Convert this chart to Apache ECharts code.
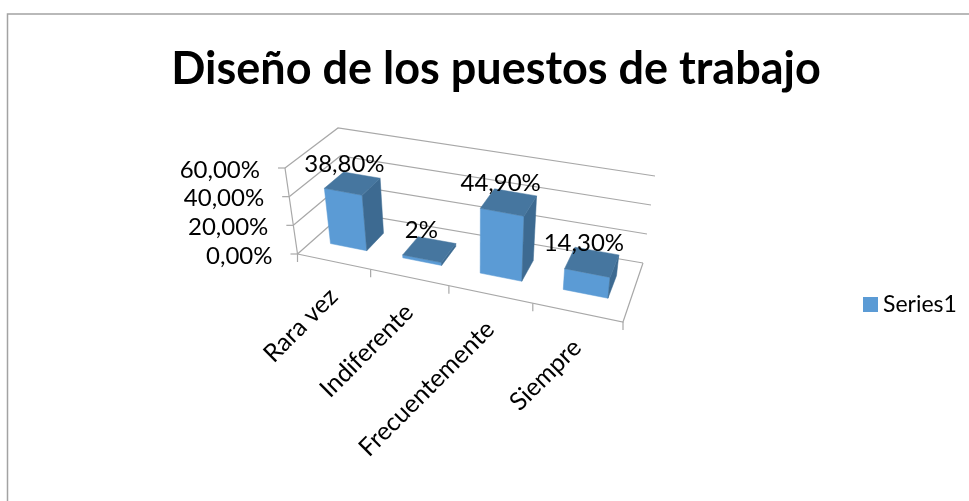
<!DOCTYPE html>
<html>
<head>
<meta charset="utf-8">
<style>html,body{margin:0;padding:0;background:#fff}#chart{width:969px;height:501px}</style>
<script src="https://cdn.jsdelivr.net/npm/echarts@6/dist/echarts.min.js"></script>
</head>
<body>
<div id="chart"></div>
<script>
// Survey results
const chartTitle = 'Diseño de los puestos de trabajo';
const seriesName = 'Series1';
const categories = ['Rara vez', 'Indiferente', 'Frecuentemente', 'Siempre'];
const values = [38.8, 2, 44.9, 14.3];
const valueLabels = ['38,80%', '2%', '44,90%', '14,30%'];
const yTicks = [0, 20, 40, 60];
const yTickLabels = ['0,00%', '20,00%', '40,00%', '60,00%'];

// Screen positions of the corners of the tilted 3D plot box.
const BOX = {
  floorFrontLeft: [297.5, 254], floorFrontRight: [623, 322],
  floorBackLeft: [345, 212], floorBackRight: [643, 263],
  topFrontLeft: [285, 168], topFrontRight: [632, 234],
  topBackLeft: [338, 128], topBackRight: [655, 176]
};
const FORESHORTEN = 1.15;
const DEPTH_FRONT = 0.33, DEPTH_BACK = 0.72;
const FONT = 'Lato, Carlito, sans-serif';
const GRID_COLOR = '#a8a8a8';
const COLOR_FRONT = '#5b9bd5', COLOR_TOP = '#46769f', COLOR_SIDE = '#3d6a91';

const mix = (a, b, t) => [a[0] + (b[0] - a[0]) * t, a[1] + (b[1] - a[1]) * t];

// Maps (across, depth, height), each 0..1, onto the screen.
function project(u, v, w) {
  const f = u / (u + FORESHORTEN * (1 - u));
  const floor = mix(mix(BOX.floorFrontLeft, BOX.floorFrontRight, f), mix(BOX.floorBackLeft, BOX.floorBackRight, f), v);
  const top = mix(mix(BOX.topFrontLeft, BOX.topFrontRight, f), mix(BOX.topBackLeft, BOX.topBackRight, f), v);
  return mix(floor, top, w);
}

// Turns a data point into box fractions using the cartesian axes.
function toBox(api, params, cat, val) {
  const cs = params.coordSys;
  const p = api.coord([cat, val]);
  return {
    u: (p[0] - cs.x) / cs.width,
    w: 1 - (p[1] - cs.y) / cs.height,
    band: api.size([1, 0])[0] / cs.width
  };
}

const line = (pts, width) => ({
  type: 'polyline', shape: { points: pts },
  style: { fill: null, stroke: GRID_COLOR, lineWidth: width || 1.2 }
});
const face = (pts, color) => ({
  type: 'polygon', shape: { points: pts },
  style: { fill: color, stroke: color, lineWidth: 0.5 }
});

// Walls, floor outline, value axis, ticks and tick labels.
function renderWall(params, api) {
  const tick = api.value(1);
  const { w } = toBox(api, params, 0, tick);
  const a = project(0, 0, w), b = project(0, 1, w), c = project(1, 1, w);
  const children = [line([a, b, c]), line([[a[0] - 7, a[1]], a])];
  if (tick === 0) {
    children.push(line([a, project(1, 0, 0), c]));
    children.push(line([a, project(0, 0, 1)]));
  }
  children.push({
    type: 'text',
    style: {
      text: yTickLabels[params.dataIndex], x: a[0] - 25, y: a[1] + 2,
      align: 'right', verticalAlign: 'middle',
      font: '24px ' + FONT, fill: '#000'
    }
  });
  return { type: 'group', children };
}

// Category ticks along the front floor edge and rotated category labels.
function renderCategory(params, api) {
  const i = api.value(0);
  const { u, band } = toBox(api, params, i, 0);
  const tickAt = (x) => { const p = project(x, 0, 0); return line([p, [p[0], p[1] + 8]]); };
  const children = [tickAt(u - band / 2)];
  if (i === categories.length - 1) children.push(tickAt(u + band / 2));
  const mid = project(u, 0, 0);
  children.push({
    type: 'text', x: mid[0], y: mid[1] + 31, rotation: Math.PI / 4,
    style: {
      text: categories[i], x: 0, y: 0, align: 'right', verticalAlign: 'middle',
      font: '25px ' + FONT, fill: '#000'
    }
  });
  return { type: 'group', children };
}

// One 3D column with its value label.
function renderBar(params, api) {
  const i = api.value(0);
  const { u, w, band } = toBox(api, params, i, api.value(1));
  const l = u - 0.25 * band, r = u + 0.26 * band;
  const P = (x, d, h) => project(x, d, h);
  const front = [P(l, DEPTH_FRONT, 0), P(r, DEPTH_FRONT, 0), P(r, DEPTH_FRONT, w), P(l, DEPTH_FRONT, w)];
  const side = [P(r, DEPTH_FRONT, 0), P(r, DEPTH_BACK, 0), P(r, DEPTH_BACK, w), P(r, DEPTH_FRONT, w)];
  const top = [P(l, DEPTH_FRONT, w), P(r, DEPTH_FRONT, w), P(r, DEPTH_BACK, w), P(l, DEPTH_BACK, w)];
  const c = P((l + r) / 2, (DEPTH_FRONT + DEPTH_BACK) / 2, w);
  return {
    type: 'group',
    children: [
      face(front, COLOR_FRONT), face(side, COLOR_SIDE), face(top, COLOR_TOP),
      {
        type: 'text', z2: 10,
        style: {
          text: valueLabels[i], x: c[0] - 8, y: c[1] - 19,
          align: 'center', verticalAlign: 'middle',
          font: '24px ' + FONT, fill: '#000'
        }
      }
    ]
  };
}

const chart = echarts.init(document.getElementById('chart'));
chart.setOption({
  animation: false,
  backgroundColor: '#fff',
  title: {
    text: chartTitle, left: 491, top: 42, textAlign: 'center',
    textStyle: { fontFamily: FONT, fontSize: 45, fontWeight: 'bold', color: '#000' }
  },
  legend: {
    data: [seriesName], left: 858, top: 288, icon: 'rect',
    itemWidth: 15, itemHeight: 15, itemGap: 6, selectedMode: false,
    textStyle: { fontFamily: FONT, fontSize: 23, color: '#000', padding: [0, 0, 0, 0] }
  },
  graphic: [{
    type: 'polyline', silent: true,
    shape: { points: [[7.5, 501], [7.5, 14], [969, 14]] },
    style: { fill: null, stroke: '#a3a3a3', lineWidth: 1.5 }
  }],
  grid: { left: 297, top: 130, width: 326, height: 190 },
  xAxis: { type: 'category', data: categories, show: false },
  yAxis: { type: 'value', min: 0, max: 60, interval: 20, show: false },
  series: [
    { type: 'custom', name: 'walls', silent: true, z: 1, renderItem: renderWall, data: yTicks.map(t => [0, t]) },
    { type: 'custom', name: 'categories', silent: true, z: 2, renderItem: renderCategory, data: categories.map((c, i) => [i, 0]) },
    {
      type: 'custom', name: seriesName, silent: true, z: 3, renderItem: renderBar,
      itemStyle: { color: COLOR_FRONT },
      data: values.map((v, i) => [i, v])
    }
  ]
});
</script>
</body>
</html>
